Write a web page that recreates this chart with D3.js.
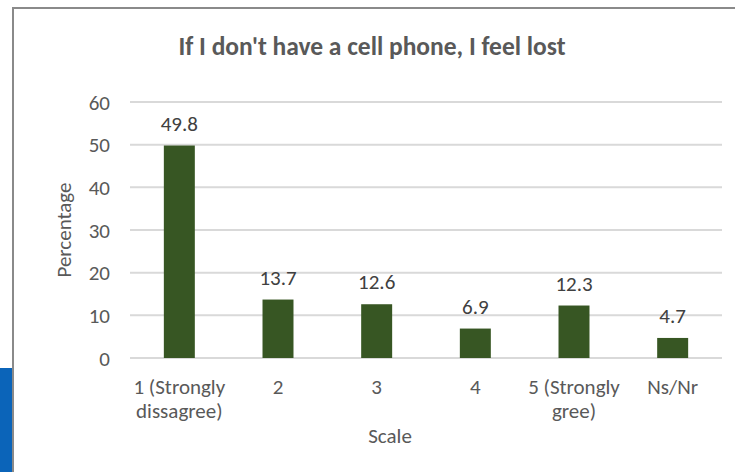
<!DOCTYPE html>
<html><head><meta charset="utf-8">
<script src="https://cdn.jsdelivr.net/npm/d3@7"></script>
<style>body{margin:0;background:#fff}svg{display:block}</style>
</head><body>
<script>
const categories = [["1 (Strongly","dissagree)"],["2"],["3"],["4"],["5 (Strongly","gree)"],["Ns/Nr"]];
const values = [49.8, 13.7, 12.6, 6.9, 12.3, 4.7];
const yTicks = [0,10,20,30,40,50,60];
const title = "If I don't have a cell phone, I feel lost";
const xTitle = "Scale", yTitle = "Percentage";

const W=735,H=472;
const svg=d3.select("body").append("svg").attr("width",W).attr("height",H);
const font="Carlito, 'Open Sans', sans-serif";
const txt="#595959";
const fs=21;
svg.append("rect").attr("x",0).attr("y",368).attr("width",13).attr("height",H-368).attr("fill","#0B64B9");
svg.append("rect").attr("x",14).attr("y",8).attr("width",W).attr("height",H).attr("fill","#fff");
svg.append("line").attr("x1",13).attr("x2",W).attr("y1",8).attr("y2",8).attr("stroke","#8a8a8a").attr("stroke-width",2);
svg.append("line").attr("x1",13).attr("x2",13).attr("y1",7).attr("y2",H).attr("stroke","#8a8a8a").attr("stroke-width",2);

const x=d3.scaleBand().domain(categories.map((d,i)=>i)).range([130,722]).paddingInner(0.686).paddingOuter(0.343);
const y=d3.scaleLinear().domain([0,60]).range([358,102]);

svg.append("g").selectAll("line").data(yTicks).join("line")
 .attr("x1",130).attr("x2",722).attr("y1",d=>y(d)).attr("y2",d=>y(d))
 .attr("stroke","#d9d9d9").attr("stroke-width",2);

const ya=d3.axisLeft(y).tickValues(yTicks).tickSize(0).tickPadding(0);
const yg=svg.append("g").attr("transform","translate(110,0)").call(ya);
yg.select(".domain").remove();
yg.selectAll("text").attr("font-family",font).attr("font-size",fs).attr("fill",txt).attr("dy","0.34em");

svg.append("g").selectAll("rect").data(values).join("rect")
 .attr("x",(d,i)=>x(i)).attr("width",x.bandwidth())
 .attr("y",d=>y(d)).attr("height",d=>y(0)-y(d)).attr("fill","#375623");

svg.append("g").selectAll("text").data(values).join("text")
 .attr("x",(d,i)=>x(i)+x.bandwidth()/2).attr("y",d=>y(d)-15)
 .attr("text-anchor","middle").attr("font-family",font).attr("font-size",fs).attr("fill","#404040")
 .text(d=>d.toFixed(1));

const xa=d3.axisBottom(x).tickSize(0).tickFormat(()=> "");
const xg=svg.append("g").attr("transform","translate(0,358)").call(xa);
xg.select(".domain").remove();
const lines=[];
categories.forEach((c,i)=>c.forEach((t,j)=>lines.push({i,j,t})));
svg.append("g").selectAll("text").data(lines).join("text")
 .attr("x",d=>x(d.i)+x.bandwidth()/2).attr("y",d=>394+d.j*24)
 .attr("text-anchor","middle").attr("font-family",font).attr("font-size",fs).attr("fill",txt)
 .text(d=>d.t);

svg.append("text").attr("x",390).attr("y",443).attr("text-anchor","middle")
 .attr("font-family",font).attr("font-size",fs).attr("fill",txt).text(xTitle);
svg.append("text").attr("transform","translate(71,230) rotate(-90)").attr("text-anchor","middle")
 .attr("font-family",font).attr("font-size",fs).attr("fill",txt).text(yTitle);
svg.append("text").attr("x",372).attr("y",55).attr("text-anchor","middle")
 .attr("font-family",font).attr("font-size",25.5).attr("font-weight","bold").attr("fill",txt).text(title);
</script>
</body></html>
